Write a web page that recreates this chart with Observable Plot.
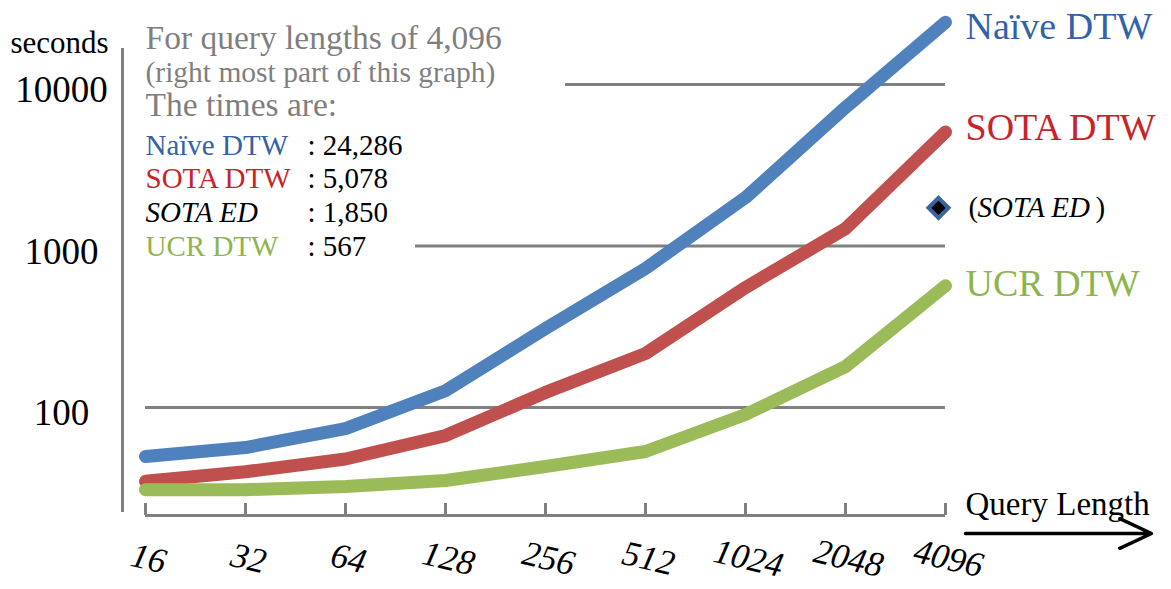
<!DOCTYPE html>
<html><head><meta charset="utf-8">
<script src="https://cdn.jsdelivr.net/npm/d3@7"></script>
<script src="https://cdn.jsdelivr.net/npm/@observablehq/plot@0.6"></script>
<style>html,body{margin:0;padding:0;background:#fff}#chart svg{display:block}</style>
</head><body><div id="chart"></div>
<script>
// ---- data ----
const queryLengths = [16, 32, 64, 128, 256, 512, 1024, 2048, 4096];
const naiveDTW = [49.7, 56.5, 74, 127, 308, 726, 1995, 7210, 24286];
const sotaDTW  = [34.9, 40, 48, 67, 124, 216, 553, 1282, 5078];
const ucrDTW   = [31, 31, 32.4, 35.3, 43.1, 53.4, 90.5, 179, 567];
const sotaED   = [{length: 4096, seconds: 1850}];
const seriesNames = ["Naïve DTW", "SOTA DTW", "UCR DTW"];
const yTickValues = [100, 1000, 10000];
const xTickLabels = ["16", "32", "64", "128", "256", "512", "1024", "2048", "4096"];

// ---- styles ----
const lineColors = {"Naïve DTW": "#4F81BD", "SOTA DTW": "#C0504D", "UCR DTW": "#9BBB59"};
const textColors = {"Naïve DTW": "#3462A8", "SOTA DTW": "#C8232B", "UCR DTW": "#8DB54C", "SOTA ED": "#000"};
const labelDy = {"Naïve DTW": 5, "SOTA DTW": -4, "UCR DTW": -2};
const GRAY = "#808080";
const SERIF = "'Liberation Serif','Times New Roman',serif";

const W = 1171, H = 589;
const M = {left: 145, right: 226, top: 84, bottom: 182};
// layout helpers: pixel -> data coordinates (for decoration placed outside the frame)
const xFromPx = px => 2 ** (4 + 8 * (px - M.left) / (W - M.left - M.right));
const yFromPx = py => 10 ** (4 - 2 * (py - M.top) / (H - M.top - M.bottom));

const valuesBySeries = [naiveDTW, sotaDTW, ucrDTW];
const rows = seriesNames.flatMap((s, i) => queryLengths.map((q, j) => ({series: s, length: q, seconds: valuesBySeries[i][j]})));
const lastRows = seriesNames.map((s, i) => ({series: s, length: queryLengths.at(-1), seconds: valuesBySeries[i].at(-1)}));
const listRows = [
  {name: "Naïve DTW", value: naiveDTW.at(-1), italic: false},
  {name: "SOTA DTW", value: sotaDTW.at(-1), italic: false},
  {name: "SOTA ED", value: sotaED[0].seconds, italic: true},
  {name: "UCR DTW", value: ucrDTW.at(-1), italic: false}
];
const fmt = d3.format(",");

const gridStart = {100: 16, 1000: xFromPx(415), 10000: xFromPx(565)};
const axisY = yFromPx(515), tickTop = yFromPx(503);

const annot = (text, dx, dy, o = {}) => Plot.text([text], {
  frameAnchor: "top-left", dx: dx - M.left, dy: dy - M.top, text: d => d,
  textAnchor: "start", lineAnchor: "middle", fontFamily: SERIF, ...o
});

const marks = [
  // grid lines
  Plot.ruleY(yTickValues, {y: d => d, x1: d => gridStart[d], x2: 4096, stroke: GRAY, strokeWidth: 3}),
  // y axis line
  Plot.ruleX([0], {x: () => xFromPx(122), y1: () => yFromPx(512), y2: () => yFromPx(48), stroke: GRAY, strokeWidth: 3}),
  // x axis line and ticks
  Plot.ruleY([0], {y: () => axisY, x1: 16, x2: 4096, stroke: GRAY, strokeWidth: 3}),
  Plot.ruleX(queryLengths, {x: d => d, y1: () => axisY, y2: () => tickTop, stroke: GRAY, strokeWidth: 3}),
  // y tick labels
  Plot.text(yTickValues, {x: () => xFromPx(61), y: d => d, dy: 6, text: d => String(d), fontFamily: SERIF, fontSize: 37, fill: "#000"}),
  annot("seconds", 10, 43, {fontSize: 31}),
  // x tick labels
  Plot.text(queryLengths, {x: d => d, y: () => axisY, dx: 3, dy: 43, text: (d, i) => xTickLabels[i], rotate: 13, fontFamily: SERIF, fontStyle: "italic", fontSize: 35, fill: "#000"}),
  annot("Query Length", 965, 504, {fontSize: 33}),
  Plot.arrow([0], {x1: () => xFromPx(965), x2: () => xFromPx(1151), y1: () => yFromPx(533), y2: () => yFromPx(533), stroke: "#000", strokeWidth: 3.5, headLength: 15, headAngle: 50}),
  // series lines
  Plot.line(rows, {x: "length", y: "seconds", z: "series", stroke: d => lineColors[d.series], strokeWidth: 13, strokeLinecap: "round", strokeLinejoin: "round"}),
  // SOTA ED point
  Plot.dot(sotaED, {x: "length", y: "seconds", dx: -7, dy: 5, symbol: "diamond2", r: 9, fill: "#000", stroke: "#3A64A0", strokeWidth: 4}),
  // right labels
  ...seriesNames.map(s => Plot.text(lastRows.filter(d => d.series === s), {x: "length", y: "seconds", dx: 20, dy: labelDy[s], text: "series", textAnchor: "start", fill: textColors[s], fontFamily: SERIF, fontSize: 38})),
  Plot.text(sotaED, {x: "length", y: "seconds", dx: 23, dy: 5, text: () => "(", textAnchor: "start", fontFamily: SERIF, fontSize: 29, fill: "#000"}),
  Plot.text(sotaED, {x: "length", y: "seconds", dx: 32, dy: 5, text: () => "SOTA ED", textAnchor: "start", fontFamily: SERIF, fontStyle: "italic", fontSize: 29, fill: "#000"}),
  Plot.text(sotaED, {x: "length", y: "seconds", dx: 150, dy: 5, text: () => ")", textAnchor: "start", fontFamily: SERIF, fontSize: 29, fill: "#000"}),
  // annotation block
  annot("For query lengths of 4,096", 145, 38, {fontSize: 33.5, fill: "#7F7F7F"}),
  annot("(right most part of this graph)", 145, 72, {fontSize: 29.5, fill: "#7F7F7F"}),
  annot("The times are:", 145, 105, {fontSize: 33.5, fill: "#7F7F7F"}),
  ...listRows.flatMap((r, i) => [
    annot(r.name, 145, 145 + i * 33.7, {fontSize: 29, fill: textColors[r.name], fontStyle: r.italic ? "italic" : "normal"}),
    annot(": " + fmt(r.value), 307, 145 + i * 33.7, {fontSize: 29, fill: "#000"})
  ])
];

const chart = Plot.plot({
  width: W, height: H,
  marginLeft: M.left, marginRight: M.right, marginTop: M.top, marginBottom: M.bottom,
  x: {type: "log", base: 2, domain: [16, 4096], axis: null},
  y: {type: "log", domain: [100, 10000], axis: null},
  color: {type: "identity"},
  style: {background: "#fff", overflow: "visible"},
  marks
});
document.getElementById("chart").appendChild(chart);
</script>
</body></html>
